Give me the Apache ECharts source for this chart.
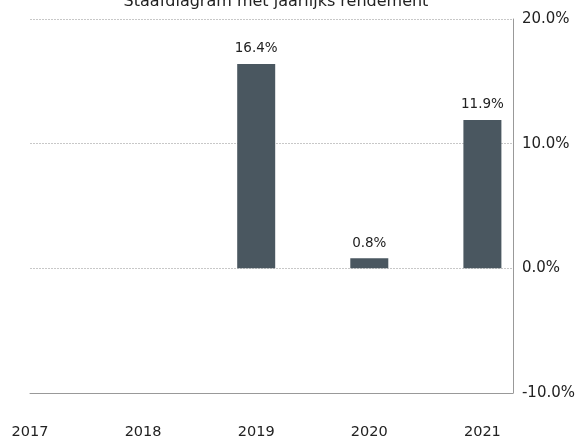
<!DOCTYPE html>
<html>
<head>
<meta charset="utf-8">
<script src="https://cdn.jsdelivr.net/npm/echarts@6/dist/echarts.min.js"></script>
<style>html,body{margin:0;padding:0;background:#fff}#c{width:578px;height:441px}</style>
</head>
<body>
<div id="c"></div>
<script>
const title = 'Staafdiagram met jaarlijks rendement';
const years = [2017, 2018, 2019, 2020, 2021];
const returns = [null, null, 16.4, 0.8, 11.9];
const yTicks = [-10, 0, 10, 20];

const chart = echarts.init(document.getElementById('c'), null, {renderer: 'canvas'});
const font = 'DejaVu Sans';
chart.setOption({
  animation: false,
  textStyle: {fontFamily: font},
  title: {
    text: title, left: 271, textAlign: 'center', top: -11,
    textStyle: {fontFamily: font, fontSize: 16, fontWeight: 'normal', color: '#222'}
  },
  grid: {left: 30, right: 65, top: 19, bottom: 48, containLabel: false},
  xAxis: {
    type: 'value', min: years[0], max: 2021.27, interval: 1,
    axisLine: {onZero: false, lineStyle: {color: '#999', width: 1}},
    axisTick: {show: false},
    splitLine: {show: false},
    axisLabel: {
      margin: 32, fontSize: 14.5, color: '#222', fontFamily: font,
      showMaxLabel: false,
      formatter: v => Number.isInteger(v) ? String(v) : ''
    }
  },
  yAxis: {
    type: 'value', position: 'right', min: yTicks[0], max: yTicks[yTicks.length - 1], interval: 10,
    axisLine: {show: true, lineStyle: {color: '#999', width: 1}},
    axisTick: {show: false},
    splitLine: {show: true, lineStyle: {color: '#c8c8c8', type: [2, 1], width: 1}},
    axisLabel: {
      margin: 9, fontSize: 15, color: '#222', fontFamily: font,
      formatter: v => v.toFixed(1) + '%'
    }
  },
  series: [{
    type: 'bar',
    barWidth: 38,
    data: years.map((y, i) => [y, returns[i]]).filter(d => d[1] !== null),
    itemStyle: {color: '#4a5760'},
    label: {
      show: true, position: 'top', distance: 8, fontSize: 13.5, color: '#222', fontFamily: font,
      formatter: p => p.value[1].toFixed(1) + '%'
    }
  }]
});
</script>
</body>
</html>
